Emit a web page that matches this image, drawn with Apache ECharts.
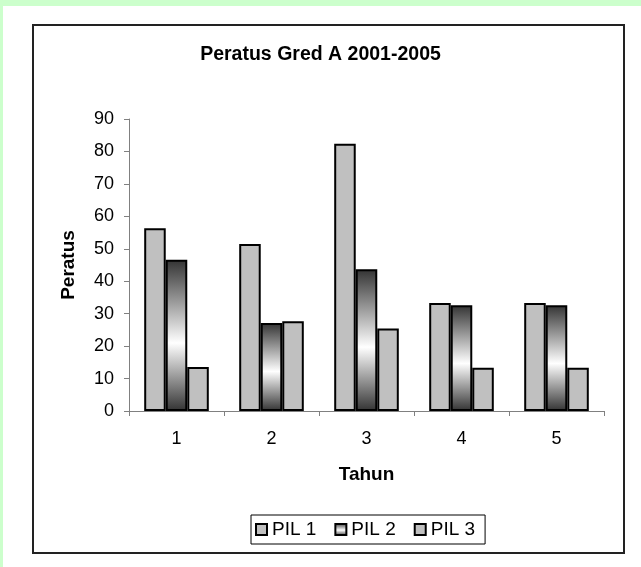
<!DOCTYPE html>
<html>
<head>
<meta charset="utf-8">
<script src="https://cdn.jsdelivr.net/npm/echarts@6/dist/echarts.min.js"></script>
<style>
html,body{margin:0;padding:0;background:#fff;}
#chart{width:641px;height:567px;}
</style>
</head>
<body>
<div id="chart"></div>
<script>
var categories = ['1', '2', '3', '4', '5'];
var seriesNames = ['PIL 1', 'PIL 2', 'PIL 3'];
var pil1 = [56.3, 51.5, 82.4, 33.3, 33.3];
var pil2 = [46.6, 27.1, 43.7, 32.6, 32.6];
var pil3 = [13.6, 27.7, 25.4, 13.3, 13.3];
var yTicks = {min: 0, max: 90, interval: 10};

var chart = echarts.init(document.getElementById('chart'), null, {renderer: 'canvas'});
var gray = '#c0c0c0';
var grad = new echarts.graphic.LinearGradient(0, 0, 0, 1, [
  {offset: 0, color: '#333333'},
  {offset: 0.55, color: '#ffffff'},
  {offset: 1, color: '#333333'}
]);
var font = 'Liberation Sans, Arial, sans-serif';

var option = {
  animation: false,
  backgroundColor: '#ffffff',
  graphic: [
    {type: 'rect', z: -100, silent: true, shape: {x: 0, y: 0, width: 641, height: 567}, style: {fill: '#ccffcc'}},
    {type: 'rect', z: -99, silent: true, shape: {x: 3, y: 6, width: 638, height: 561}, style: {fill: '#ffffff'}},
    {type: 'rect', z: -98, silent: true, shape: {x: 33, y: 25, width: 591, height: 528}, style: {fill: 'none', stroke: '#222222', lineWidth: 2}}
  ],
  title: {
    text: 'Peratus Gred A 2001-2005',
    left: 'center',
    top: 45,
    padding: 0,
    textStyle: {fontFamily: font, fontSize: 19.5, fontWeight: 'bold', color: '#000'}
  },
  legend: {
    data: seriesNames,
    left: 251,
    top: 515,
    orient: 'horizontal',
    itemWidth: 11,
    itemHeight: 11,
    itemGap: 18,
    icon: 'rect',
    borderColor: '#000',
    borderWidth: 1,
    padding: [5, 10, 5, 4],
    textStyle: {fontFamily: font, fontSize: 19, color: '#000'}
  },
  grid: {left: 129, top: 119, width: 475, height: 292, containLabel: false},
  xAxis: {
    type: 'category',
    data: categories,
    name: 'Tahun',
    nameLocation: 'middle',
    nameGap: 54,
    nameTextStyle: {fontFamily: font, fontSize: 19, fontWeight: 'bold', color: '#000'},
    axisLine: {lineStyle: {color: '#808080', width: 1}},
    axisTick: {show: true, length: 5, alignWithLabel: false, lineStyle: {color: '#808080'}},
    axisLabel: {fontFamily: font, fontSize: 18, color: '#000', margin: 19},
    splitLine: {show: false}
  },
  yAxis: {
    type: 'value',
    min: yTicks.min,
    max: yTicks.max,
    interval: yTicks.interval,
    name: 'Peratus',
    nameLocation: 'middle',
    nameGap: 51,
    nameTextStyle: {fontFamily: font, fontSize: 19, fontWeight: 'bold', color: '#000'},
    axisLine: {show: true, lineStyle: {color: '#808080', width: 1}},
    axisTick: {show: true, length: 5, lineStyle: {color: '#808080'}},
    axisLabel: {fontFamily: font, fontSize: 18, color: '#000', margin: 15},
    splitLine: {show: false}
  },
  series: [
    {name: seriesNames[0], type: 'bar', data: pil1, barGap: '0%', barCategoryGap: '32%',
     itemStyle: {color: gray, borderColor: '#000', borderWidth: 2}},
    {name: seriesNames[1], type: 'bar', data: pil2, barGap: '0%', barCategoryGap: '32%',
     itemStyle: {color: grad, borderColor: '#000', borderWidth: 2}},
    {name: seriesNames[2], type: 'bar', data: pil3, barGap: '0%', barCategoryGap: '32%',
     itemStyle: {color: gray, borderColor: '#000', borderWidth: 2}}
  ]
};
chart.setOption(option);
</script>
</body>
</html>
